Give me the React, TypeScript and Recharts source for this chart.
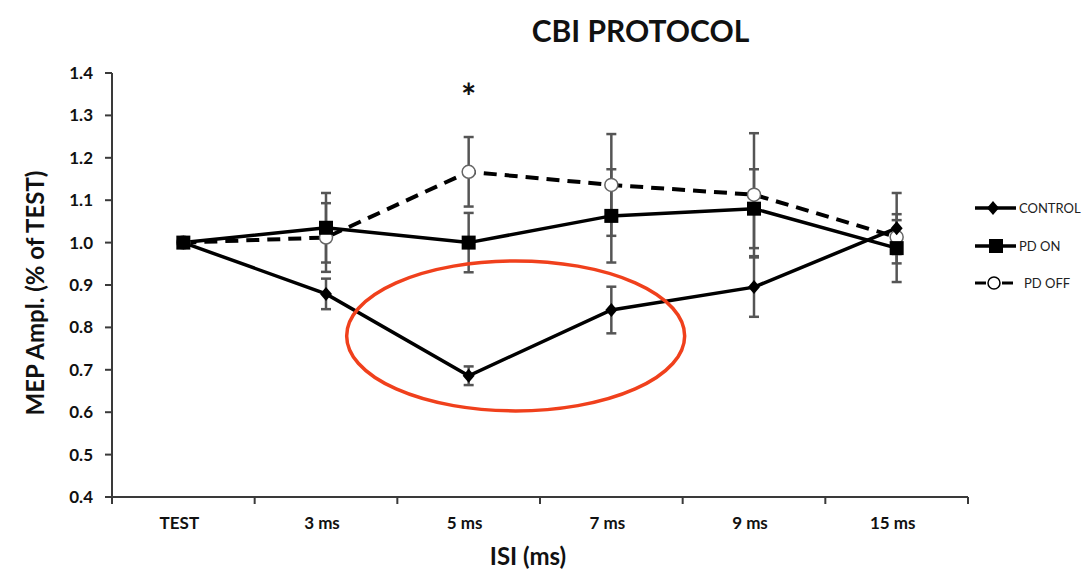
import React from 'react';
import { LineChart, Line, XAxis, YAxis, ErrorBar, ReferenceDot, Legend, Label } from 'recharts';

const categories = ['TEST', '3 ms', '5 ms', '7 ms', '9 ms', '15 ms'];
const controlValues = [1.0, 0.879, 0.686, 0.841, 0.895, 1.034];
const controlErrors = [0, 0.036, 0.022, 0.055, 0.07, 0.083];
const pdOnValues = [1.0, 1.035, 1.0, 1.063, 1.08, 0.987];
const pdOnErrors = [0, 0.082, 0.07, 0.11, 0.093, 0.08];
const pdOffValues = [1.0, 1.012, 1.167, 1.136, 1.113, 1.013];
const pdOffErrors = [0, 0.081, 0.082, 0.12, 0.145, 0.04];
const yTicks = [0.4, 0.5, 0.6, 0.7, 0.8, 0.9, 1.0, 1.1, 1.2, 1.3, 1.4];
const seriesNames = ['CONTROL', 'PD ON', 'PD OFF'];
const starCategory = '5 ms';
const starValue = 1.35;
const highlightCategory = '5 ms';
const highlightValue = 0.78;

const data = categories.map((c, i) => ({
  cat: c,
  control: controlValues[i],
  controlErr: controlErrors[i],
  pdOn: pdOnValues[i],
  pdOnErr: pdOnErrors[i],
  pdOff: pdOffValues[i],
  pdOffErr: pdOffErrors[i],
}));

const W = 1075;
const H = 564;
const M = { top: 65, right: 115, bottom: 0, left: 44 };
const Y_W = 60;
const X_H = 75;
const plotLeft = M.left + Y_W;
const plotRight = W - M.right;
const band = (plotRight - plotLeft) / categories.length;
const axisColor = '#3a3a3a';
const errColor = '#555';

const Diamond = (p: any) => {
  const { cx, cy, index } = p;
  if (cx == null || cy == null) return <g key={`d${index}`} />;
  return <path key={`d${index}`} d={`M${cx},${cy - 7}L${cx + 6},${cy}L${cx},${cy + 7}L${cx - 6},${cy}Z`} fill="#000" />;
};
const Square = (p: any) => {
  const { cx, cy, index } = p;
  if (cx == null || cy == null) return <g key={`s${index}`} />;
  return <rect key={`s${index}`} x={cx - 7} y={cy - 7} width={14} height={14} fill="#000" />;
};
const Circle = (p: any) => {
  const { cx, cy, index } = p;
  if (cx == null || cy == null) return <g key={`c${index}`} />;
  return <circle key={`c${index}`} cx={cx} cy={cy} r={6.5} fill="#fff" stroke="#666" strokeWidth={1.5} />;
};

const XTick = (p: any) => {
  const { x, y, payload, index } = p;
  const left = x - band / 2;
  const right = x + band / 2;
  return (
    <g>
      <line x1={left} y1={y} x2={left} y2={y + 7} stroke={axisColor} strokeWidth={2} />
      {index === categories.length - 1 && (
        <line x1={right} y1={y} x2={right} y2={y + 7} stroke={axisColor} strokeWidth={2} />
      )}
      <text x={x - 4} y={y + 32} textAnchor="middle" fontSize={17} fontWeight={700} fill="#111">
        {payload.value}
      </text>
    </g>
  );
};

const renderLegend = () => (
  <svg width={122} height={110}>
    <g>
      <line x1={7} y1={15} x2={48} y2={15} stroke="#000" strokeWidth={3.5} />
      <path d="M25,8L31,15L25,22L19,15Z" fill="#000" />
      <text x={51} y={20} fontSize={13} fill="#222">{seriesNames[0]}</text>
    </g>
    <g>
      <line x1={7} y1={53} x2={48} y2={53} stroke="#000" strokeWidth={3.5} />
      <rect x={21} y={46} width={14} height={14} fill="#000" />
      <text x={51} y={58} fontSize={13} fill="#222">{seriesNames[1]}</text>
    </g>
    <g>
      <line x1={7} y1={90} x2={18} y2={90} stroke="#000" strokeWidth={3} />
      <line x1={34} y1={90} x2={45} y2={90} stroke="#000" strokeWidth={3} />
      <circle cx={26} cy={90} r={6} fill="#fff" stroke="#000" strokeWidth={1.5} />
      <text x={56} y={95} fontSize={13} fill="#222">{seriesNames[2]}</text>
    </g>
  </svg>
);

export default function App() {
  return (
    <div style={{ position: 'relative', width: W, height: H, fontFamily: 'Lato, "Open Sans", sans-serif' }}>
      <div
        style={{
          position: 'absolute',
          left: 440,
          width: 385,
          top: 4,
          textAlign: 'center',
          fontSize: 30,
          fontWeight: 700,
          color: '#111',
          zIndex: 2,
        }}
      >
        CBI PROTOCOL
      </div>
      <LineChart width={W} height={H} data={data} margin={M}>
        <XAxis
          dataKey="cat"
          height={X_H}
          axisLine={{ stroke: axisColor, strokeWidth: 2 }}
          padding={{ left: band / 2, right: band / 2 }}
          tickLine={false}
          tickSize={0}
          tickMargin={0}
          tick={<XTick />}
          interval={0}
        >
          <Label
            content={(props: any) => {
              const vb = props.viewBox;
              return (
                <text x={vb.x + vb.width / 2 - 12} y={vb.y + 68} textAnchor="middle" fontSize={24} fontWeight={700} fill="#111">
                  ISI (ms)
                </text>
              );
            }}
          />
        </XAxis>
        <YAxis
          domain={[0.4, 1.4]}
          ticks={yTicks}
          width={Y_W}
          axisLine={{ stroke: axisColor, strokeWidth: 2 }}
          tickLine={{ stroke: axisColor, strokeWidth: 2 }}
          tickSize={7}
          tickMargin={12}
          tick={{ fontSize: 17, fontWeight: 700, fill: '#111' }}
          tickFormatter={(v: number) => v.toFixed(1)}
          interval={0}
        >
          <Label
            content={(props: any) => {
              const vb = props.viewBox;
              const cx = 30;
              const cy = vb.y + vb.height / 2 + 8;
              return (
                <text x={cx} y={cy} transform={`rotate(-90 ${cx} ${cy})`} textAnchor="middle" dominantBaseline="middle" fontSize={24} fontWeight={700} fill="#111">
                  MEP Ampl. (% of TEST)
                </text>
              );
            }}
          />
        </YAxis>
        <Line
          dataKey="pdOff"
          name={seriesNames[2]}
          stroke="#000"
          strokeWidth={4}
          strokeDasharray="13 8"
          dot={Circle}
          activeDot={false}
          isAnimationActive={false}
        >
          <ErrorBar dataKey="pdOffErr" stroke={errColor} strokeWidth={2.5} width={5} direction="y" />
        </Line>
        <Line
          dataKey="pdOn"
          name={seriesNames[1]}
          stroke="#000"
          strokeWidth={3.5}
          dot={Square}
          activeDot={false}
          isAnimationActive={false}
        >
          <ErrorBar dataKey="pdOnErr" stroke={errColor} strokeWidth={2.5} width={5} direction="y" />
        </Line>
        <Line
          dataKey="control"
          name={seriesNames[0]}
          stroke="#000"
          strokeWidth={3.5}
          dot={Diamond}
          activeDot={false}
          isAnimationActive={false}
        >
          <ErrorBar dataKey="controlErr" stroke={errColor} strokeWidth={2.5} width={5} direction="y" />
        </Line>
        <ReferenceDot
          x={starCategory}
          y={starValue}
          ifOverflow="visible"
          shape={(p: any) => (
            <text x={p.cx} y={p.cy + 16} textAnchor="middle" fontSize={36} fontWeight={700} fill="#111">
              *
            </text>
          )}
        />
        <ReferenceDot
          x={highlightCategory}
          y={highlightValue}
          ifOverflow="visible"
          shape={(p: any) => (
            <ellipse cx={p.cx + 47} cy={p.cy} rx={169} ry={75} fill="none" stroke="#f0401c" strokeWidth={3.5} />
          )}
        />
        <Legend
          layout="vertical"
          align="center"
          verticalAlign="middle"
          content={renderLegend}
          wrapperStyle={{ position: 'absolute', left: 960, top: 185, width: 122, height: 110 }}
        />
      </LineChart>
    </div>
  );
}
